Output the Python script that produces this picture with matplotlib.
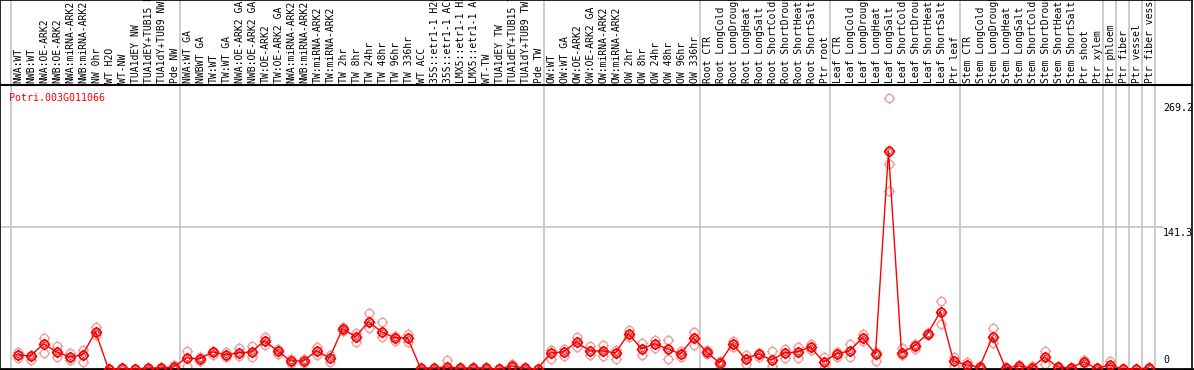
import numpy as np
import matplotlib
matplotlib.use("Agg")
import matplotlib.pyplot as plt
from matplotlib.path import Path
from matplotlib.transforms import blended_transform_factory

# ---------------- data ----------------
gene_name = "Potri.003G011066"

sample_labels = [
    "NWA:WT", "NWB:WT", "NWA:OE-ARK2", "NWB:OE-ARK2", "NWA:miRNA-ARK2", "NWB:miRNA-ARK2",
    "NW 0hr", "WT H2O", "WT-NW", "TUA1dEY NW", "TUA1dEY+TUB15 NW", "TUA1dY+TUB9 NW", "Pde NW",
    "NWA:WT GA", "NWBWT GA", "TW:WT", "TW:WT GA", "NWA:OE-ARK2 GA", "NWB:OE-ARK2 GA",
    "TW:OE-ARK2", "TW:OE-ARK2 GA", "NWA:miRNA-ARK2", "NWB:miRNA-ARK2", "TW:miRNA-ARK2",
    "TW:miRNA-ARK2", "TW 2hr", "TW 8hr", "TW 24hr", "TW 48hr", "TW 96hr", "TW 336hr",
    "WT ACC", "35S::etr1-1 H2O", "35S::etr1-1 ACC", "LMX5::etr1-1 H2O", "LMX5::etr1-1 ACC",
    "WT-TW", "TUA1dEY TW", "TUA1dEY+TUB15 TW", "TUA1dY+TUB9 TW", "Pde TW",
    "OW:WT", "OW:WT GA", "OW:OE-ARK2", "OW:OE-ARK2 GA", "OW:miRNA-ARK2", "OW:miRNA-ARK2",
    "OW 2hr", "OW 8hr", "OW 24hr", "OW 48hr", "OW 96hr", "OW 336hr",
    "Root CTR", "Root LongCold", "Root LongDrought", "Root LongHeat", "Root LongSalt",
    "Root ShortCold", "Root ShortDrought", "Root ShortHeat", "Root ShortSalt", "Ptr root",
    "Leaf CTR", "Leaf LongCold", "Leaf LongDrought", "Leaf LongHeat", "Leaf LongSalt",
    "Leaf ShortCold", "Leaf ShortDrought", "Leaf ShortHeat", "Leaf ShortSalt", "Ptr leaf",
    "Stem CTR", "Stem LongCold", "Stem LongDrought", "Stem LongHeat", "Stem LongSalt",
    "Stem ShortCold", "Stem ShortDrought", "Stem ShortHeat", "Stem ShortSalt", "Ptr shoot",
    "Ptr xylem", "Ptr phloem", "Ptr fiber", "Ptr vessel", "Ptr fiber vessel",
]

mean_values = [
    14, 13, 25, 17, 12, 14, 37, 0, 0.5, 0, 1, 1, 2,
    11, 10, 17, 14, 16, 17, 28, 18, 8, 8, 18, 11, 40, 32, 47, 37, 31, 31,
    1, 1, 2, 1, 1, 1, 0, 3, 1, 0,
    16, 17, 27, 18, 18, 16, 35, 20, 25, 20, 15, 31,
    17, 6, 25, 10, 15, 9, 16, 17, 22, 7,
    15, 18, 31, 15, 216.4, 16, 23, 35, 57, 8,
    4, 2, 32, 1, 3, 1, 12, 2, 1, 7, 0.5,
    4, 0, 0, 1,
]

replicate_high = [
    17, 14, 31, 23, 16, 19, 42, 0, 1, 0, 1, 2, 4,
    18, 12, 18, 17, 21, 23, 32, 20, 10, 10, 22, 14, 42, 36, 56, 47, 33, 35,
    1, 1, 9, 2, 2, 2, 1, 5, 2, 0,
    19, 20, 32, 23, 24, 19, 39, 26, 29, 29, 18, 37,
    19, 8, 28, 14, 16, 18, 20, 22, 25, 12,
    17, 25, 35, 17, 269.2, 21, 25, 36, 68, 12,
    7, 3, 41, 2, 4, 3, 18, 3, 2, 9, 1,
    8, 1, 0, 2,
]

replicate_low = [
    11, 9, 16, 12, 9, 7, 34, 0, 0, 0, 0, 0, 1,
    3, 8, 14, 12, 13, 12, 24, 15, 6, 6, 14, 7, 38, 27, 41, 32, 28, 27,
    0, 0, 1, 0, 0, 0, 0, 2, 0, 0,
    10, 13, 22, 14, 13, 10, 32, 14, 21, 10, 12, 24,
    15, 4, 22, 5, 12, 3, 11, 11, 19, 1,
    12, 12, 28, 8, 176.5, 14, 20, 34, 45, 3,
    3, 1, 26, 0, 1, 0, 5, 1, 0, 5, 0,
    2, 0, 0, 0,
]

replicate_extra = {67: 203.5}

group_edges = [-0.5, 12.5, 40.5, 52.5, 62.5, 72.5, 83.5, 84.5, 85.5, 86.5, 87.5]
ytick_values = [0, 141.3, 269.2]
ytick_texts = ["0", "141.3", "269.2"]
grid_values = [141.3]

# ---------------- style / layout ----------------
W, H = 1194, 370
FONT = "DejaVu Sans Mono"
RED = "#ff0000"
PINK = "#f09c9c"
GRAY = "#c4c4c4"

plot_top_px = 85
plot_bot_px = 369
frame_right_px = 1192
x0_px = 11.0      # pixel of position -0.5
step_px = 13.0
xmin = -0.5 - x0_px / step_px
xmax = xmin + frame_right_px / step_px
px_per_unit = 271.0 / 269.2
ymax = (plot_bot_px - plot_top_px) / px_per_unit

fig = plt.figure(figsize=(W / 100, H / 100), dpi=100)
fig.patch.set_facecolor("white")

ax = fig.add_axes([0, (H - plot_bot_px) / H, frame_right_px / W,
                   (plot_bot_px - plot_top_px) / H])
axl = fig.add_axes([0, (H - plot_top_px) / H, frame_right_px / W, plot_top_px / H])

for a in (ax, axl):
    a.set_xlim(xmin, xmax)
    a.set_xticks([])
    a.set_yticks([])
    for s in a.spines.values():
        s.set_color("black")
        s.set_linewidth(1.2)
    for e in group_edges:
        a.axvline(e, color=GRAY, lw=1.2, zorder=0.5)

ax.set_ylim(0, ymax)
axl.set_ylim(0, 1)
ax.spines["bottom"].set_linewidth(2)
axl.spines["bottom"].set_linewidth(1.5)

# grid line
for g in grid_values:
    ax.axhline(g, xmin=0, xmax=1163 / frame_right_px, color=GRAY, lw=1.2, zorder=0.5)

# sample labels
for i, lab in enumerate(sample_labels):
    axl.text(i + 0.1, (plot_top_px - 83) / plot_top_px, lab, rotation=90,
             ha="center", va="bottom", fontsize=7, family=FONT, color="black")

# marker: circle with four small ticks
circ = Path.unit_circle()
tick_paths = [Path([(dx, dy), (1.4 * dx, 1.4 * dy)], [Path.MOVETO, Path.LINETO])
              for dx, dy in [(1, 0), (-1, 0), (0, 1), (0, -1)]]
tick_marker = Path.make_compound_path(circ, *tick_paths)

xs = np.arange(len(sample_labels))
rep_style = dict(linestyle="none", marker=tick_marker, markersize=8.2,
                 markerfacecolor="none", markeredgecolor=PINK, markeredgewidth=1.0,
                 zorder=2, clip_on=False)
ax.plot(xs, replicate_high, **rep_style)
ax.plot(xs, replicate_low, **rep_style)
ax.plot(list(replicate_extra.keys()), list(replicate_extra.values()), **rep_style)

ax.plot(xs, mean_values, color=RED, lw=1.0, zorder=3, clip_on=False)
ax.plot(xs, mean_values, linestyle="none", marker=tick_marker, markersize=8.2,
        markerfacecolor="none", markeredgecolor=RED, markeredgewidth=1.3,
        zorder=4, clip_on=False)
ax.plot(xs, mean_values, linestyle="none", marker="o", markersize=3.0,
        markerfacecolor="none", markeredgecolor="#990000", markeredgewidth=0.4,
        zorder=5, clip_on=False)

# y value labels on the right
tb = blended_transform_factory(ax.transAxes, ax.transData)
offsets = {"0": (4, "bottom"), "141.3": (-1, "top"), "269.2": (-5, "top")}
for v, t in zip(ytick_values, ytick_texts):
    dy, va = offsets[t]
    ax.annotate(t, xy=(1163 / frame_right_px, v), xycoords=tb,
                xytext=(0, dy), textcoords="offset pixels",
                ha="left", va=va, fontsize=7.2, family=FONT, color="black",
                annotation_clip=False)

# gene name
ax.text(9 / frame_right_px, 1 - (93 - plot_top_px) / (plot_bot_px - plot_top_px),
        gene_name, transform=ax.transAxes, ha="left", va="top",
        fontsize=7.2, family=FONT, color=RED)

fig.savefig("out.png", dpi=100, facecolor="white")
